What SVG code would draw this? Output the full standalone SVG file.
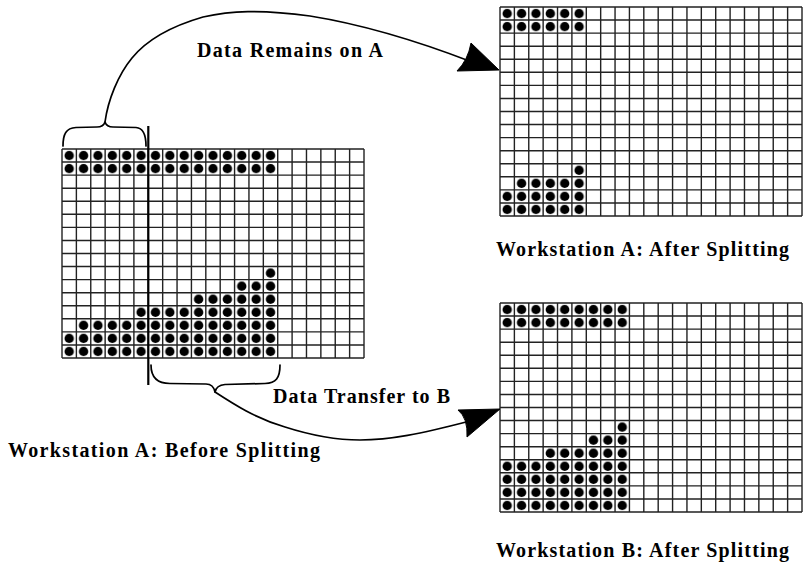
<svg xmlns="http://www.w3.org/2000/svg" xmlns:xlink="http://www.w3.org/1999/xlink" width="809" height="572" viewBox="0 0 809 572">
<style>
.grid{fill:none;stroke:#222;stroke-width:1.4}
.dots{fill:url(#dotPat)}
.conn{fill:none;stroke:#000;stroke-width:1.7;stroke-linejoin:round;stroke-linecap:round}
.head{fill:#000;stroke:#000;stroke-width:1}
.lbl{font-family:"Liberation Serif","Times New Roman",serif;font-size:20px;font-weight:bold;fill:#000}
</style>
<defs>
<pattern id="dotPat" patternUnits="userSpaceOnUse" x="0" y="0" width="14.381" height="13.0625">
<circle cx="7.19" cy="6.53" r="4.7" fill="#000"/>
</pattern>
<path id="gridLines" class="grid" d="M0 0V209M14.38 0V209M28.76 0V209M43.14 0V209M57.52 0V209M71.9 0V209M86.29 0V209M100.67 0V209M115.05 0V209M129.43 0V209M143.81 0V209M158.19 0V209M172.57 0V209M186.95 0V209M201.33 0V209M215.71 0V209M230.1 0V209M244.48 0V209M258.86 0V209M273.24 0V209M287.62 0V209M302 0V209M0 0H302M0 13.06H302M0 26.13H302M0 39.19H302M0 52.25H302M0 65.31H302M0 78.38H302M0 91.44H302M0 104.5H302M0 117.56H302M0 130.63H302M0 143.69H302M0 156.75H302M0 169.81H302M0 182.88H302M0 195.94H302M0 209H302"/>
</defs>

<g id="grid-before" transform="translate(62,149)">
<use xlink:href="#gridLines" href="#gridLines"/>
<g class="dots">
<rect x="0" y="0" width="215.71" height="26.13"/>
<rect x="201.33" y="117.56" width="14.38" height="13.07"/>
<rect x="172.57" y="130.63" width="43.14" height="13.06"/>
<rect x="129.43" y="143.69" width="86.28" height="13.06"/>
<rect x="71.9" y="156.75" width="143.81" height="13.06"/>
<rect x="14.38" y="169.81" width="201.33" height="13.07"/>
<rect x="0" y="182.88" width="215.71" height="26.12"/>
</g>
</g>

<g id="grid-after-A" transform="translate(500,7)">
<use xlink:href="#gridLines" href="#gridLines"/>
<g class="dots">
<rect x="0" y="0" width="86.29" height="26.13"/>
<rect x="71.9" y="156.75" width="14.39" height="13.06"/>
<rect x="14.38" y="169.81" width="71.91" height="13.07"/>
<rect x="0" y="182.88" width="86.29" height="26.12"/>
</g>
</g>

<g id="grid-after-B" transform="translate(500,303)">
<use xlink:href="#gridLines" href="#gridLines"/>
<g class="dots">
<rect x="0" y="0" width="129.43" height="26.13"/>
<rect x="115.05" y="117.56" width="14.38" height="13.07"/>
<rect x="86.29" y="130.63" width="43.14" height="13.06"/>
<rect x="43.14" y="143.69" width="86.29" height="13.06"/>
<rect x="0" y="156.75" width="129.43" height="52.25"/>
</g>
</g>

<g id="connectors">
<line x1="148.3" y1="126" x2="148.3" y2="385" stroke="#000" stroke-width="2.2"/>
<path class="conn" d="M63,146 C63,134 66,128 76,127.5 L97,127 C102,127 104,125 105,122 C106,125 108,127 113,127 L136,127.5 C143,128 146,134 146,146"/>
<path class="conn" d="M151,365 C151,378 158,383.5 170,383.5 L206,384 C211,384 214,387 215,392 C216,387 219,385 225,384.5 L265,383.5 C276,383 280,378 280,365"/>
<path class="conn" d="M105,122 C108,100 118,75 132,58 C145,42 165,28 203,17 C230,11 260,9 310,16 C360,24 420,42 472,62"/>
<path class="head" d="M499,70 L471,43 Q468,60 457,71 Z"/>
<path class="conn" d="M215,392 C235,405 255,418 285,427 C310,435 335,440 360,440 C390,440 420,434 470,421"/>
<path class="head" d="M500,409 L458,410 Q468,418 467,437 Z"/>
</g>

<g id="labels">
<text class="lbl" x="197" y="57" textLength="186" lengthAdjust="spacing">Data Remains on A</text>
<text class="lbl" x="273" y="403" textLength="177" lengthAdjust="spacing">Data Transfer to B</text>
<text class="lbl" x="8" y="457" textLength="312" lengthAdjust="spacing">Workstation A: Before Splitting</text>
<text class="lbl" x="496" y="256" textLength="293" lengthAdjust="spacing">Workstation A: After Splitting</text>
<text class="lbl" x="496" y="557" textLength="293" lengthAdjust="spacing">Workstation B: After Splitting</text>
</g>
</svg>
